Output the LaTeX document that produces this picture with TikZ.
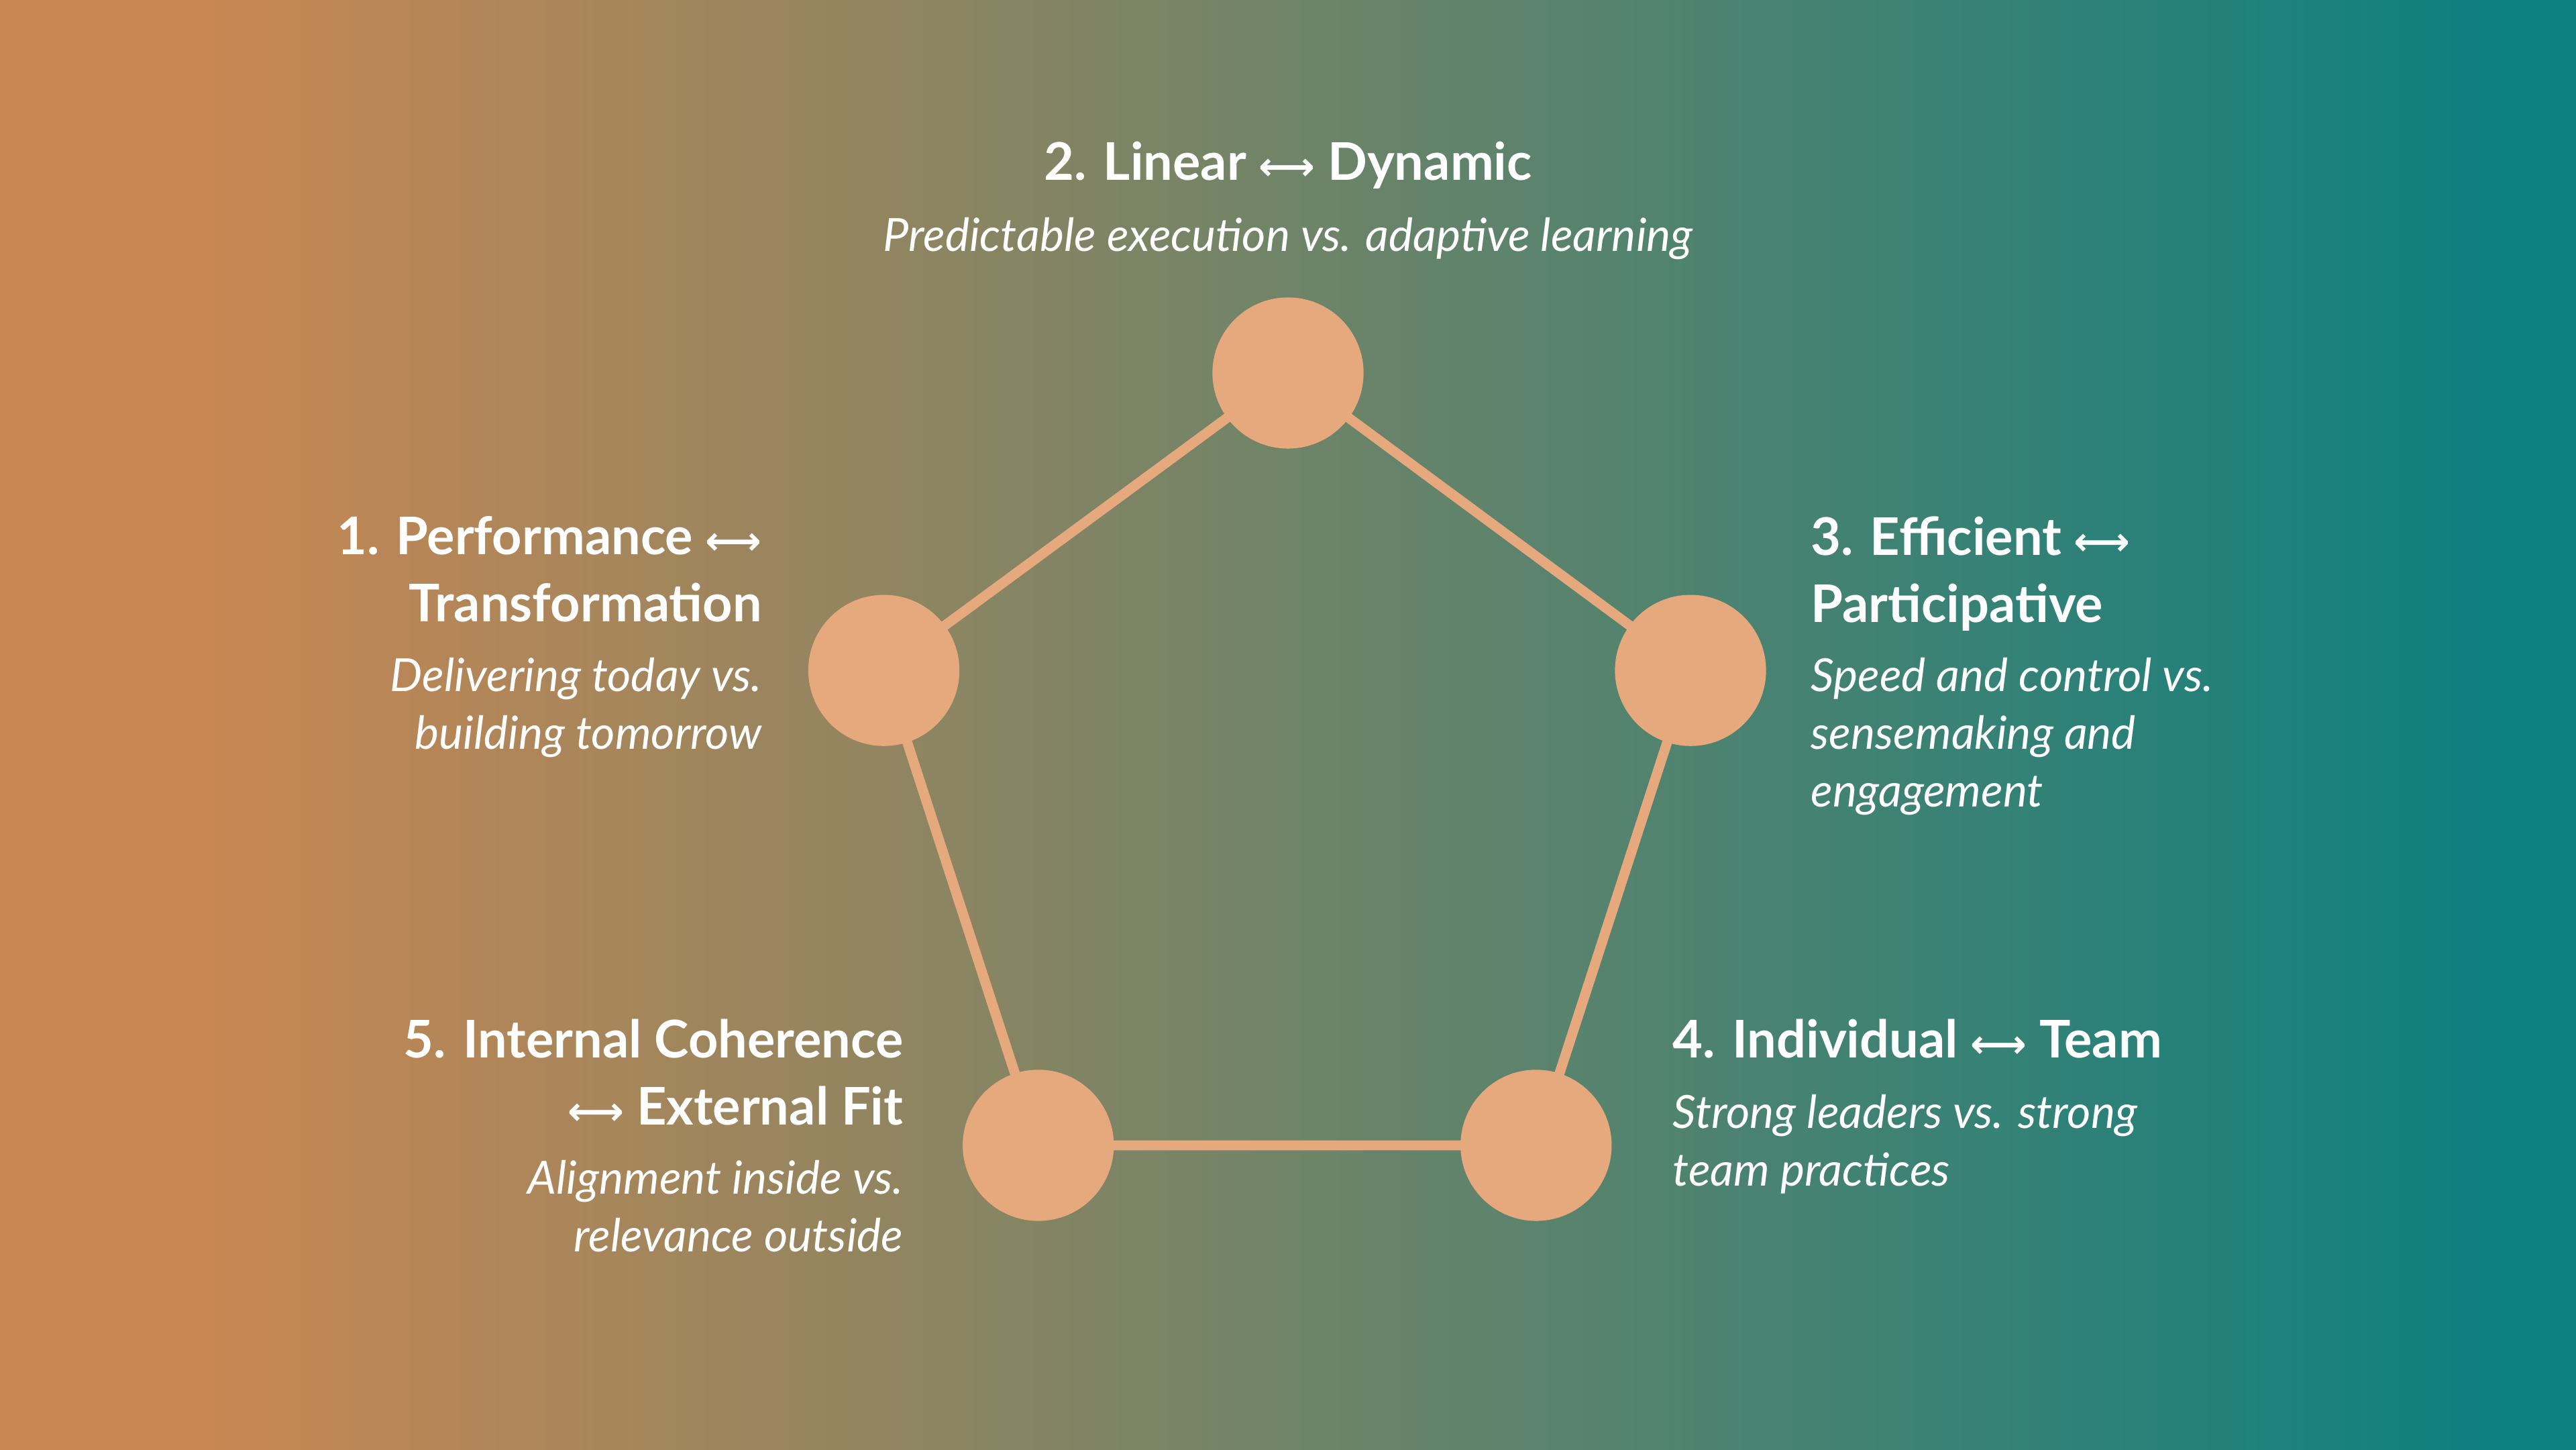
\documentclass[tikz,border=0pt]{standalone}
\usepackage{fontspec}
\setmainfont{Lato}
\newfontfamily\arrowfont{DejaVu Sans}
\usetikzlibrary{positioning}
\definecolor{bgLeft}{HTML}{C98753}
\definecolor{bgRight}{HTML}{0A8080}
\definecolor{dotFill}{HTML}{E6A97E}
\newcommand{\lr}{{\arrowfont\fontsize{17}{20}\selectfont ⟷}}
\tikzset{
    dot/.style={
        circle,
        fill=dotFill,
        minimum size=2.3cm,
        inner sep=0pt
    },
    edge/.style={
        line width=4.3pt,
        draw=dotFill
    },
    head/.style={
        text=white,
        inner sep=0pt,
        font=\fontsize{22.5}{29}\selectfont\bfseries
    },
    sub/.style={
        text=white,
        inner sep=0pt,
        font=\fontsize{19.8}{25}\selectfont\itshape
    }
}
\begin{document}
\begin{tikzpicture}
    \useasboundingbox (0,0) rectangle (39.2,22.05);
    % background
    \begin{scope}
        \clip (0,0) rectangle (39.2,22.05);
        \fill[bgLeft] (-0.5,-0.5) rectangle (3.1,22.5);
        \fill[bgRight] (38.4,-0.5) rectangle (39.7,22.5);
        \shade[left color=bgLeft, right color=bgRight] (3,-0.5) rectangle (38.5,22.5);
    \end{scope}

    % pentagon
    \draw[edge] (13.45,11.85) -- (19.6,16.375) -- (25.725,11.85)
        -- (23.375,4.625) -- (15.8,4.625) -- cycle;
    \node[dot] (lin) at (19.6,16.375) {};
    \node[dot] (perf) at (13.45,11.85) {};
    \node[dot] (eff) at (25.725,11.85) {};
    \node[dot] (coh) at (15.8,4.625) {};
    \node[dot] (ind) at (23.375,4.625) {};

    % labels
    \node[head, anchor=north] (linT) at (19.6,19.9) {2. Linear \lr{} Dynamic};
    \node[sub, anchor=north] (linS) at (19.6,18.75) {Predictable execution vs. adaptive learning};

    \node[head, anchor=north east, align=right] (perfT) at (11.6,14.2) {1. Performance \lr\\Transformation};
    \node[sub, anchor=north east, align=right] (perfS) at (11.6,12.05) {Delivering today vs.\\building tomorrow};

    \node[head, anchor=north west, align=left] (effT) at (27.55,14.2) {3. Efficient \lr\\Participative};
    \node[sub, anchor=north west, align=left] (effS) at (27.55,12.05) {Speed and control vs.\\sensemaking and\\engagement};

    \node[head, anchor=north east, align=right] (cohT) at (13.75,6.55) {5. Internal Coherence\\\lr{} External Fit};
    \node[sub, anchor=north east, align=right] (cohS) at (13.75,4.4) {Alignment inside vs.\\relevance outside};

    \node[head, anchor=north west] (indT) at (25.45,6.55) {4. Individual \lr{} Team};
    \node[sub, anchor=north west, align=left] (indS) at (25.45,5.4) {Strong leaders vs. strong\\team practices};
\end{tikzpicture}
\end{document}
